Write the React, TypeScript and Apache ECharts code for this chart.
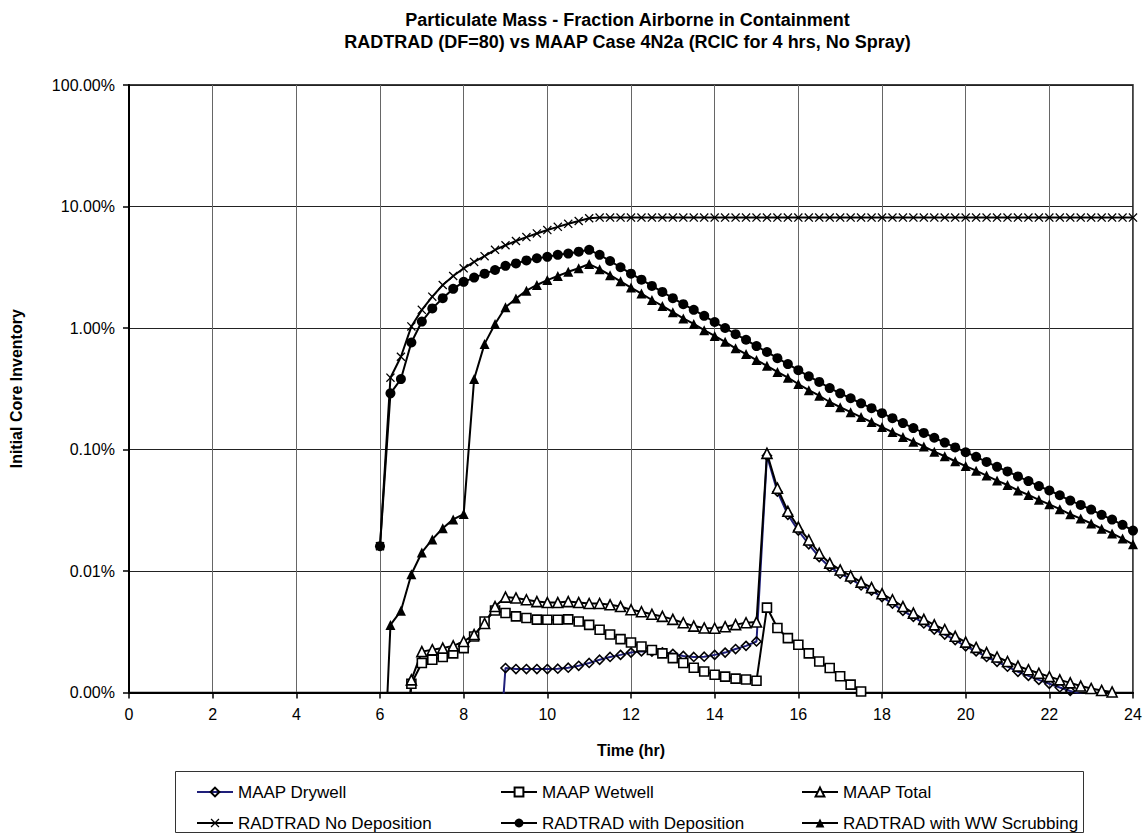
import React, { useEffect, useRef } from "react";
import * as echarts from "echarts";

// Time axis (hours) shared by all series, 0.25 h steps
const hours = [
  6, 6.25, 6.5, 6.75, 7, 7.25, 7.5, 7.75, 8, 8.25, 8.5, 8.75, 9, 9.25, 9.5, 9.75,
  10, 10.25, 10.5, 10.75, 11, 11.25, 11.5, 11.75, 12, 12.25, 12.5, 12.75, 13, 13.25,
  13.5, 13.75, 14, 14.25, 14.5, 14.75, 15, 15.25, 15.5, 15.75, 16, 16.25, 16.5, 16.75,
  17, 17.25, 17.5, 17.75, 18, 18.25, 18.5, 18.75, 19, 19.25, 19.5, 19.75, 20, 20.25,
  20.5, 20.75, 21, 21.25, 21.5, 21.75, 22, 22.25, 22.5, 22.75, 23, 23.25, 23.5, 23.75, 24,
];

// Values in percent of initial core inventory (null = no point)
const maapDrywell = [
  null, null, null, null, null, null, null, null, null, null, null, 0.0001,
  0.00159, 0.00156, 0.00156, 0.00156, 0.00156, 0.00157, 0.0016, 0.00166, 0.00175, 0.00186,
  0.00196, 0.00204, 0.00213, 0.00218, 0.00217, 0.00214, 0.00208, 0.002, 0.00196, 0.00197,
  0.00204, 0.00213, 0.00228, 0.00242, 0.00263, 0.089, 0.045, 0.029, 0.0215, 0.0166,
  0.013, 0.0108, 0.0095, 0.0086, 0.0076, 0.0069, 0.0061, 0.0054, 0.0047, 0.0042,
  0.0037, 0.0033, 0.003, 0.0027, 0.0024, 0.00218, 0.00196, 0.00179, 0.00163, 0.00148,
  0.00137, 0.00127, 0.00118, 0.0011, 0.00103, 0.00097, 0.0009, null, null, null, null,
];

const maapWetwell = [
  null, null, 0.0001, 0.00118, 0.00175, 0.00186, 0.00196, 0.0021, 0.00232, 0.00289,
  0.00384, 0.00473, 0.00451, 0.00423, 0.0041, 0.00398, 0.00397, 0.00397, 0.004, 0.00384,
  0.0036, 0.00328, 0.003, 0.00275, 0.00258, 0.00239, 0.00224, 0.0021, 0.00192, 0.00175,
  0.0016, 0.00149, 0.0014, 0.00135, 0.0013, 0.00128, 0.00125, 0.005, 0.0034, 0.0028,
  0.00247, 0.0021, 0.0018, 0.00159, 0.00136, 0.00116, 0.00102,
  null, null, null, null, null, null, null, null, null, null, null, null, null,
  null, null, null, null, null, null, null, null, null, null, null, null, null,
];

const maapTotal = [
  null, null, 0.0001, 0.00127, 0.00217, 0.00225, 0.00232, 0.00242, 0.00263, 0.003,
  0.0037, 0.0051, 0.0061, 0.006, 0.0058, 0.0056, 0.0055, 0.0055, 0.0056, 0.0055,
  0.0054, 0.0054, 0.00527, 0.0051, 0.0048, 0.00462, 0.0044, 0.00423, 0.004, 0.00375,
  0.00352, 0.0034, 0.00338, 0.00348, 0.00362, 0.00375, 0.0038, 0.093, 0.048, 0.031,
  0.023, 0.018, 0.014, 0.0116, 0.0102, 0.0091, 0.0081, 0.0073, 0.0065, 0.0058,
  0.0051, 0.0045, 0.004, 0.0036, 0.0033, 0.0029, 0.0026, 0.00235, 0.00213, 0.00196,
  0.0018, 0.00165, 0.00154, 0.00144, 0.00135, 0.00127, 0.0012, 0.00113, 0.00108, 0.00104,
  0.00101, 0.00095, 0.0009,
];

const radtradNoDeposition = [
  0.016, 0.39, 0.58, 1.03, 1.41, 1.81, 2.26, 2.68, 3.1, 3.5, 3.9, 4.4, 4.8, 5.2, 5.6,
  6.0, 6.4, 6.8, 7.2, 7.6, 8.0, 8.1, 8.1, 8.1, 8.1, 8.1, 8.1, 8.1, 8.1, 8.1, 8.1, 8.1,
  8.1, 8.1, 8.1, 8.1, 8.1, 8.1, 8.1, 8.1, 8.1, 8.1, 8.1, 8.1, 8.1, 8.1, 8.1, 8.1, 8.1,
  8.1, 8.1, 8.1, 8.1, 8.1, 8.1, 8.1, 8.1, 8.1, 8.1, 8.1, 8.1, 8.1, 8.1, 8.1, 8.1, 8.1,
  8.1, 8.1, 8.1, 8.1, 8.1, 8.1, 8.1,
];

const radtradWithDeposition = [
  0.016, 0.29, 0.38, 0.76, 1.13, 1.45, 1.76, 2.1, 2.4, 2.6, 2.8, 3.0, 3.25, 3.4, 3.6,
  3.75, 3.85, 4.0, 4.1, 4.25, 4.4, 4.0, 3.56, 3.16, 2.8, 2.5, 2.22, 1.98, 1.76, 1.57,
  1.41, 1.26, 1.12, 1.0, 0.89, 0.8, 0.71, 0.635, 0.565, 0.505, 0.45, 0.4, 0.36, 0.32,
  0.29, 0.264, 0.24, 0.219, 0.199, 0.181, 0.165, 0.15, 0.137, 0.125, 0.114, 0.104,
  0.095, 0.087, 0.079, 0.072, 0.066, 0.06, 0.055, 0.05, 0.046, 0.042, 0.038, 0.035,
  0.032, 0.029, 0.0265, 0.024, 0.0215,
];

const radtradWwScrubbing = [
  0.00004, 0.0036, 0.0047, 0.0094, 0.0142, 0.0182, 0.0225, 0.0266, 0.0294, 0.38, 0.74,
  1.08, 1.48, 1.75, 2.03, 2.26, 2.48, 2.68, 2.9, 3.1, 3.36, 3.05, 2.72, 2.42, 2.15,
  1.92, 1.7, 1.52, 1.35, 1.2, 1.08, 0.96, 0.86, 0.77, 0.68, 0.61, 0.545, 0.488, 0.435,
  0.39, 0.346, 0.308, 0.277, 0.246, 0.223, 0.203, 0.185, 0.168, 0.153, 0.139, 0.127,
  0.116, 0.106, 0.096, 0.088, 0.08, 0.073, 0.067, 0.061, 0.0555, 0.051, 0.046, 0.0423,
  0.0385, 0.0354, 0.0323, 0.0293, 0.027, 0.0246, 0.0223, 0.0204, 0.0185, 0.0166,
];

const xTicks = { min: 0, max: 24, interval: 2 };
const yRange = { min: 0.001, max: 100 };

const titleLines = [
  "Particulate Mass - Fraction Airborne in Containment",
  "RADTRAD (DF=80) vs MAAP Case 4N2a (RCIC for 4 hrs, No Spray)",
];

const legendRow1 = ["MAAP Drywell", "MAAP Wetwell", "MAAP Total"];
const legendRow2 = ["RADTRAD No Deposition", "RADTRAD with Deposition", "RADTRAD with WW Scrubbing"];

const FONT = "'Liberation Sans', Arial, Helvetica, sans-serif";
const X_SYMBOL =
  "path://M1,0 L5,4 L9,0 L10,1 L6,5 L10,9 L9,10 L5,6 L1,10 L0,9 L4,5 L0,1 Z";

function pairs(values: (number | null)[]) {
  const out: [number, number][] = [];
  values.forEach((v, i) => {
    if (v !== null && v !== undefined) out.push([hours[i], v]);
  });
  return out;
}

export default function App() {
  const ref = useRef<HTMLDivElement | null>(null);

  useEffect(() => {
    document.body.style.margin = "0";
    if (!ref.current) return;
    const chart = echarts.init(ref.current, undefined, { renderer: "svg" });

    const base = {
      type: "line",
      showAllSymbol: true,
      clip: true,
      z: 3,
    };

    const series = [
      {
        ...base,
        name: "MAAP Drywell",
        data: pairs(maapDrywell),
        symbol: "diamond",
        symbolSize: 9,
        lineStyle: { color: "#1f1f7a", width: 2 },
        itemStyle: { color: "rgba(255,255,255,0)", borderColor: "#000", borderWidth: 1.6 },
      },
      {
        ...base,
        name: "MAAP Wetwell",
        data: pairs(maapWetwell),
        symbol: "rect",
        symbolSize: 9,
        lineStyle: { color: "#000", width: 2 },
        itemStyle: { color: "#fff", borderColor: "#000", borderWidth: 1.6 },
      },
      {
        ...base,
        name: "MAAP Total",
        data: pairs(maapTotal),
        symbol: "triangle",
        symbolSize: 10,
        lineStyle: { color: "#000", width: 2 },
        itemStyle: { color: "#fff", borderColor: "#000", borderWidth: 1.6 },
      },
      {
        ...base,
        name: "RADTRAD No Deposition",
        data: pairs(radtradNoDeposition),
        symbol: X_SYMBOL,
        symbolSize: 9,
        lineStyle: { color: "#000", width: 2 },
        itemStyle: { color: "#000" },
      },
      {
        ...base,
        name: "RADTRAD with Deposition",
        data: pairs(radtradWithDeposition),
        symbol: "circle",
        symbolSize: 10,
        lineStyle: { color: "#000", width: 2 },
        itemStyle: { color: "#000" },
      },
      {
        ...base,
        name: "RADTRAD with WW Scrubbing",
        data: pairs(radtradWwScrubbing),
        symbol: "triangle",
        symbolSize: 10,
        lineStyle: { color: "#000", width: 2 },
        itemStyle: { color: "#000" },
      },
    ];

    const colLeft = [191, 495, 796];
    const rowTop = [778, 809];
    const legends: any[] = [];
    [legendRow1, legendRow2].forEach((row, r) => {
      row.forEach((name, c) => {
        legends.push({
          left: colLeft[c],
          top: rowTop[r],
          itemWidth: 36,
          itemHeight: 11,
          selectedMode: false,
          data: [name],
          textStyle: { fontFamily: FONT, fontSize: 17, color: "#000", lineHeight: 18 },
        });
      });
    });

    chart.setOption({
      animation: false,
      backgroundColor: "#fff",
      textStyle: { fontFamily: FONT },
      grid: {
        left: 122,
        right: 15,
        top: 85,
        bottom: 141.5,
        show: true,
        borderColor: "#000",
        borderWidth: 1.5,
        backgroundColor: "#fff",
      },
      xAxis: {
        type: "value",
        min: xTicks.min,
        max: xTicks.max,
        interval: xTicks.interval,
        name: "Time (hr)",
        nameLocation: "middle",
        nameGap: 50,
        nameTextStyle: { fontFamily: FONT, fontSize: 16, fontWeight: "bold", color: "#000" },
        axisLine: { show: true, lineStyle: { color: "#000", width: 2 } },
        axisTick: { show: true, inside: false, length: 6, lineStyle: { color: "#000", width: 1.5 } },
        axisLabel: { fontFamily: FONT, fontSize: 16, color: "#000", margin: 14 },
        splitLine: { show: true, lineStyle: { color: "#666", width: 1 } },
      },
      yAxis: {
        type: "log",
        logBase: 10,
        min: yRange.min,
        max: yRange.max,
        name: "Initial Core Inventory",
        nameLocation: "middle",
        nameGap: 105,
        nameRotate: 90,
        nameTextStyle: { fontFamily: FONT, fontSize: 16, fontWeight: "bold", color: "#000" },
        axisLine: { show: true, lineStyle: { color: "#000", width: 2 } },
        axisTick: { show: true, inside: false, length: 6, lineStyle: { color: "#000", width: 1.5 } },
        axisLabel: {
          fontFamily: FONT,
          fontSize: 16,
          color: "#000",
          margin: 14,
          formatter: (v: number) => v.toFixed(2) + "%",
        },
        splitLine: { show: true, lineStyle: { color: "#222", width: 1 } },
        minorTick: { show: false },
      },
      legend: legends,
      graphic: [
        {
          type: "text",
          x: 627.5,
          y: 20,
          style: {
            text: titleLines[0],
            align: "center",
            verticalAlign: "middle",
            font: `bold 18px ${FONT}`,
            fill: "#000",
          },
        },
        {
          type: "text",
          x: 627.5,
          y: 42,
          style: {
            text: titleLines[1],
            align: "center",
            verticalAlign: "middle",
            font: `bold 18px ${FONT}`,
            fill: "#000",
          },
        },
        {
          type: "rect",
          shape: { x: 175.5, y: 771.5, width: 908, height: 61 },
          style: { fill: "none", stroke: "#333", lineWidth: 1 },
          z: 0,
        },
      ],
      series,
    });

    return () => {
      chart.dispose();
    };
  }, []);

  return <div ref={ref} style={{ width: 1148, height: 834 }} />;
}
